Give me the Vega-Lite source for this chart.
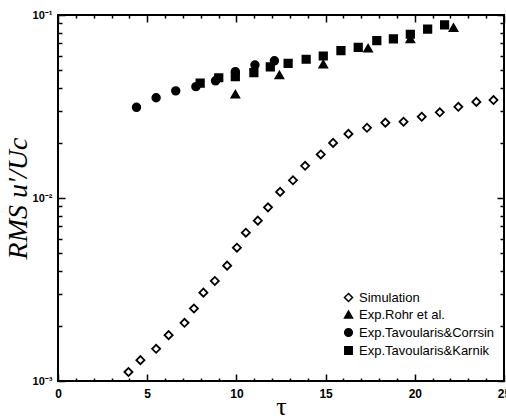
{
  "$schema": "https://vega.github.io/schema/vega-lite/v6.json",
  "width": 446,
  "height": 366,
  "autosize": "none",
  "padding": {"left": 58, "top": 15, "right": 2, "bottom": 35},
  "background": "white",
  "config": {
    "view": {"stroke": "black", "strokeWidth": 2},
    "axis": {"grid": false, "domain": false, "tickColor": "black", "tickWidth": 1.5, "labelColor": "black", "titleColor": "black", "labelFont": "Liberation Sans", "labelFontWeight": "bold"}
  },
  "data": {"values": [
    {"series": "Simulation", "tau": 3.95, "rms": 0.00112},
    {"series": "Simulation", "tau": 4.62, "rms": 0.00130},
    {"series": "Simulation", "tau": 5.50, "rms": 0.00150},
    {"series": "Simulation", "tau": 6.20, "rms": 0.00178},
    {"series": "Simulation", "tau": 7.09, "rms": 0.00208},
    {"series": "Simulation", "tau": 7.62, "rms": 0.00249},
    {"series": "Simulation", "tau": 8.15, "rms": 0.00304},
    {"series": "Simulation", "tau": 8.79, "rms": 0.00352},
    {"series": "Simulation", "tau": 9.48, "rms": 0.00427},
    {"series": "Simulation", "tau": 10.03, "rms": 0.00535},
    {"series": "Simulation", "tau": 10.53, "rms": 0.00646},
    {"series": "Simulation", "tau": 11.20, "rms": 0.00752},
    {"series": "Simulation", "tau": 11.77, "rms": 0.00889},
    {"series": "Simulation", "tau": 12.45, "rms": 0.0108},
    {"series": "Simulation", "tau": 13.17, "rms": 0.0125},
    {"series": "Simulation", "tau": 13.85, "rms": 0.0150},
    {"series": "Simulation", "tau": 14.73, "rms": 0.0173},
    {"series": "Simulation", "tau": 15.42, "rms": 0.0200},
    {"series": "Simulation", "tau": 16.28, "rms": 0.0224},
    {"series": "Simulation", "tau": 17.32, "rms": 0.0242},
    {"series": "Simulation", "tau": 18.35, "rms": 0.0258},
    {"series": "Simulation", "tau": 19.37, "rms": 0.0261},
    {"series": "Simulation", "tau": 20.39, "rms": 0.0278},
    {"series": "Simulation", "tau": 21.40, "rms": 0.0294},
    {"series": "Simulation", "tau": 22.44, "rms": 0.0315},
    {"series": "Simulation", "tau": 23.45, "rms": 0.0335},
    {"series": "Simulation", "tau": 24.41, "rms": 0.0343},
    {"series": "Exp.Rohr et al.", "tau": 9.94, "rms": 0.0369},
    {"series": "Exp.Rohr et al.", "tau": 12.41, "rms": 0.0470},
    {"series": "Exp.Rohr et al.", "tau": 14.87, "rms": 0.0539},
    {"series": "Exp.Rohr et al.", "tau": 17.38, "rms": 0.0658},
    {"series": "Exp.Rohr et al.", "tau": 19.75, "rms": 0.0740},
    {"series": "Exp.Rohr et al.", "tau": 22.17, "rms": 0.0853},
    {"series": "Exp.Tavoularis&Corrsin", "tau": 4.40, "rms": 0.0313},
    {"series": "Exp.Tavoularis&Corrsin", "tau": 5.50, "rms": 0.0353},
    {"series": "Exp.Tavoularis&Corrsin", "tau": 6.60, "rms": 0.0385},
    {"series": "Exp.Tavoularis&Corrsin", "tau": 7.73, "rms": 0.0406},
    {"series": "Exp.Tavoularis&Corrsin", "tau": 8.83, "rms": 0.0437},
    {"series": "Exp.Tavoularis&Corrsin", "tau": 9.94, "rms": 0.0490},
    {"series": "Exp.Tavoularis&Corrsin", "tau": 11.04, "rms": 0.0533},
    {"series": "Exp.Tavoularis&Corrsin", "tau": 12.13, "rms": 0.0562},
    {"series": "Exp.Tavoularis&Karnik", "tau": 7.97, "rms": 0.0424},
    {"series": "Exp.Tavoularis&Karnik", "tau": 9.01, "rms": 0.0454},
    {"series": "Exp.Tavoularis&Karnik", "tau": 9.94, "rms": 0.0460},
    {"series": "Exp.Tavoularis&Karnik", "tau": 10.98, "rms": 0.0484},
    {"series": "Exp.Tavoularis&Karnik", "tau": 11.90, "rms": 0.0521},
    {"series": "Exp.Tavoularis&Karnik", "tau": 12.90, "rms": 0.0544},
    {"series": "Exp.Tavoularis&Karnik", "tau": 13.91, "rms": 0.0573},
    {"series": "Exp.Tavoularis&Karnik", "tau": 14.87, "rms": 0.0597},
    {"series": "Exp.Tavoularis&Karnik", "tau": 15.86, "rms": 0.0638},
    {"series": "Exp.Tavoularis&Karnik", "tau": 16.83, "rms": 0.0665},
    {"series": "Exp.Tavoularis&Karnik", "tau": 17.87, "rms": 0.0724},
    {"series": "Exp.Tavoularis&Karnik", "tau": 18.80, "rms": 0.0740},
    {"series": "Exp.Tavoularis&Karnik", "tau": 19.75, "rms": 0.0785},
    {"series": "Exp.Tavoularis&Karnik", "tau": 20.72, "rms": 0.0838},
    {"series": "Exp.Tavoularis&Karnik", "tau": 21.67, "rms": 0.0882}
  ]},
  "layer": [
    {
      "mark": {"type": "point", "stroke": "black", "strokeWidth": 1.8, "opacity": 1, "clip": true},
      "encoding": {
        "x": {"field": "tau", "type": "quantitative",
          "scale": {"domain": [0, 25], "nice": false, "zero": false},
          "axis": {"orient": "bottom", "title": "τ", "titleFont": "Liberation Serif", "titleFontSize": 26, "titleFontWeight": "normal", "titlePadding": -6,
            "values": [0, 5, 10, 15, 20, 25], "ticks": false,
            "labelPadding": 7, "labelFontSize": 12, "labelFlush": false, "labelOverlap": false}},
        "y": {"field": "rms", "type": "quantitative",
          "scale": {"type": "log", "domain": [0.001, 0.1], "nice": false},
          "axis": {"orient": "left", "title": "RMS u'/Uc", "titleFont": "Liberation Serif", "titleFontStyle": "italic", "titleFontWeight": "normal", "titleFontSize": 28, "titlePadding": 0,
            "values": [0.001, 0.01, 0.1], "ticks": false,
            "labelExpr": "datum.value == 0.001 ? '10⁻³' : datum.value == 0.01 ? '10⁻²' : '10⁻¹'",
            "labelPadding": 6, "labelFontSize": 11, "labelOverlap": false, "labelFlush": false}},
        "shape": {"field": "series", "type": "nominal",
          "scale": {"domain": ["Simulation", "Exp.Rohr et al.", "Exp.Tavoularis&Corrsin", "Exp.Tavoularis&Karnik"], "range": ["diamond", "triangle-up", "circle", "square"]},
          "legend": {"title": null, "orient": "none", "legendX": 284, "legendY": 276, "labelFont": "Liberation Sans", "labelFontSize": 13, "labelColor": "black", "rowPadding": 3, "symbolStrokeColor": "black", "labelLimit": 300}},
        "fill": {"field": "series", "type": "nominal",
          "scale": {"domain": ["Simulation", "Exp.Rohr et al.", "Exp.Tavoularis&Corrsin", "Exp.Tavoularis&Karnik"], "range": ["white", "black", "black", "black"]},
          "legend": {"title": null, "orient": "none", "legendX": 284, "legendY": 276}},
        "size": {"field": "series", "type": "nominal",
          "scale": {"domain": ["Simulation", "Exp.Rohr et al.", "Exp.Tavoularis&Corrsin", "Exp.Tavoularis&Karnik"], "range": [65, 55, 80, 40]},
          "legend": {"title": null, "orient": "none", "legendX": 284, "legendY": 276}}
      }
    },
    {
      "mark": {"type": "point", "opacity": 0},
      "encoding": {
        "x": {"field": "tau", "type": "quantitative",
          "axis": {"orient": "bottom", "title": null, "labels": false, "values": [0, 5, 10, 15, 20, 25], "tickSize": -7}},
        "y": {"field": "rms", "type": "quantitative",
          "axis": {"orient": "left", "title": null, "labels": false, "values": [0.001, 0.01, 0.1], "tickSize": -7}}
      }
    },
    {
      "mark": {"type": "point", "opacity": 0},
      "encoding": {
        "x": {"field": "tau", "type": "quantitative",
          "axis": {"orient": "bottom", "title": null, "labels": false, "values": [1,2,3,4,6,7,8,9,11,12,13,14,16,17,18,19,21,22,23,24], "tickSize": -3}},
        "y": {"field": "rms", "type": "quantitative",
          "axis": {"orient": "left", "title": null, "labels": false, "values": [0.002,0.003,0.004,0.005,0.006,0.007,0.008,0.009,0.02,0.03,0.04,0.05,0.06,0.07,0.08,0.09], "tickSize": -4}}
      }
    },
    {
      "mark": {"type": "point", "opacity": 0},
      "encoding": {
        "x": {"field": "tau", "type": "quantitative",
          "axis": {"orient": "top", "title": null, "labels": false, "values": [0, 5, 10, 15, 20, 25], "tickSize": -7}},
        "y": {"field": "rms", "type": "quantitative",
          "axis": {"orient": "right", "title": null, "labels": false, "values": [0.001, 0.01, 0.1], "tickSize": -7}}
      }
    },
    {
      "mark": {"type": "point", "opacity": 0},
      "encoding": {
        "x": {"field": "tau", "type": "quantitative",
          "axis": {"orient": "top", "title": null, "labels": false, "values": [1,2,3,4,6,7,8,9,11,12,13,14,16,17,18,19,21,22,23,24], "tickSize": -3}},
        "y": {"field": "rms", "type": "quantitative",
          "axis": {"orient": "right", "title": null, "labels": false, "values": [0.002,0.003,0.004,0.005,0.006,0.007,0.008,0.009,0.02,0.03,0.04,0.05,0.06,0.07,0.08,0.09], "tickSize": -4}}
      }
    }
  ],
  "resolve": {"axis": {"x": "independent", "y": "independent"}}
}
